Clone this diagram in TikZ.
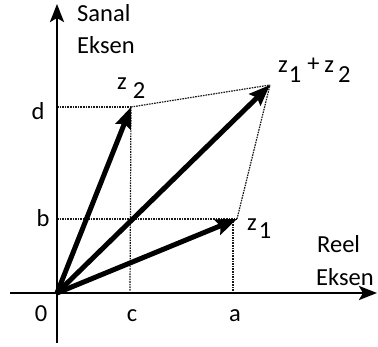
\documentclass[tikz,border=0pt]{standalone}
\usepackage{fontspec}
\setmainfont{Carlito}
\usetikzlibrary{arrows.meta}
\begin{document}
\begin{tikzpicture}[x=1pt,y=-1pt,
  axis/.style={line width=2.8pt,-{Stealth[length=18pt,width=14pt,inset=4pt]}},
  vec/.style={line width=5pt,-{Stealth[length=21pt,width=16pt,inset=3pt]}},
  guide/.style={dash pattern=on 1.6pt off 1pt,line width=1.2pt,black!90},
  lbl/.style={inner sep=0pt,font=\fontsize{24.5}{30}\selectfont},
]
\useasboundingbox (0,0) rectangle (378,347);
% points
\coordinate (O) at (57,293);
\coordinate (xl) at (10,293);
\coordinate (xr) at (377,293);
\coordinate (yb) at (57,343);
\coordinate (yt) at (57,4);
\coordinate (z1) at (237,219);
\coordinate (z2) at (131,107);
\coordinate (s) at (270,85);
\coordinate (dy) at (57,107);
\coordinate (by) at (57,219);
\coordinate (cx) at (130,291);
\coordinate (ax) at (233,291);
\coordinate (at) at (233,219);
% guides
\draw[guide] (dy) -- (z2);
\draw[guide] (z2) -- (cx);
\draw[guide] (z2) -- (s);
\draw[guide] (by) -- (z1);
\draw[guide] (at) -- (ax);
\draw[guide] (z1) -- (s);
% axes
\draw[axis] (xl) -- (xr);
\draw[axis] (yb) -- (yt);
% vectors
\draw[vec] (O) -- (z1);
\draw[vec] (O) -- (z2);
\draw[vec] (O) -- (s);
% labels
\node[lbl,anchor=base west] (sanal) at (77,22) {Sanal};
\node[lbl,anchor=base west] (eksenY) at (77,54) {Eksen};
\node[lbl,anchor=base west] (reel) at (317,253) {Reel};
\node[lbl,anchor=base west] (eksenX) at (316,286) {Eksen};
\node[lbl,anchor=base] (dlbl) at (38,120) {d};
\node[lbl,anchor=base] (blbl) at (43,227) {b};
\node[lbl,anchor=base] (olbl) at (41,322) {0};
\node[lbl,anchor=base] (clbl) at (132,322) {c};
\node[lbl,anchor=base] (albl) at (235,322) {a};
\node[lbl,anchor=base west] (z2lbl) at (117,90) {z\hspace{6pt}\raisebox{-9pt}{2}};
\node[lbl,anchor=base west] (z1lbl) at (247,231) {z\hspace{2pt}\raisebox{-8pt}{1}};
\node[lbl,anchor=base west] (slbl) at (278,73) {z\hspace{1pt}\raisebox{-10pt}{1}\hspace{6pt}\raisebox{1pt}{+}\hspace{5pt}z\hspace{4pt}\raisebox{-10pt}{2}};
\end{tikzpicture}
\end{document}
